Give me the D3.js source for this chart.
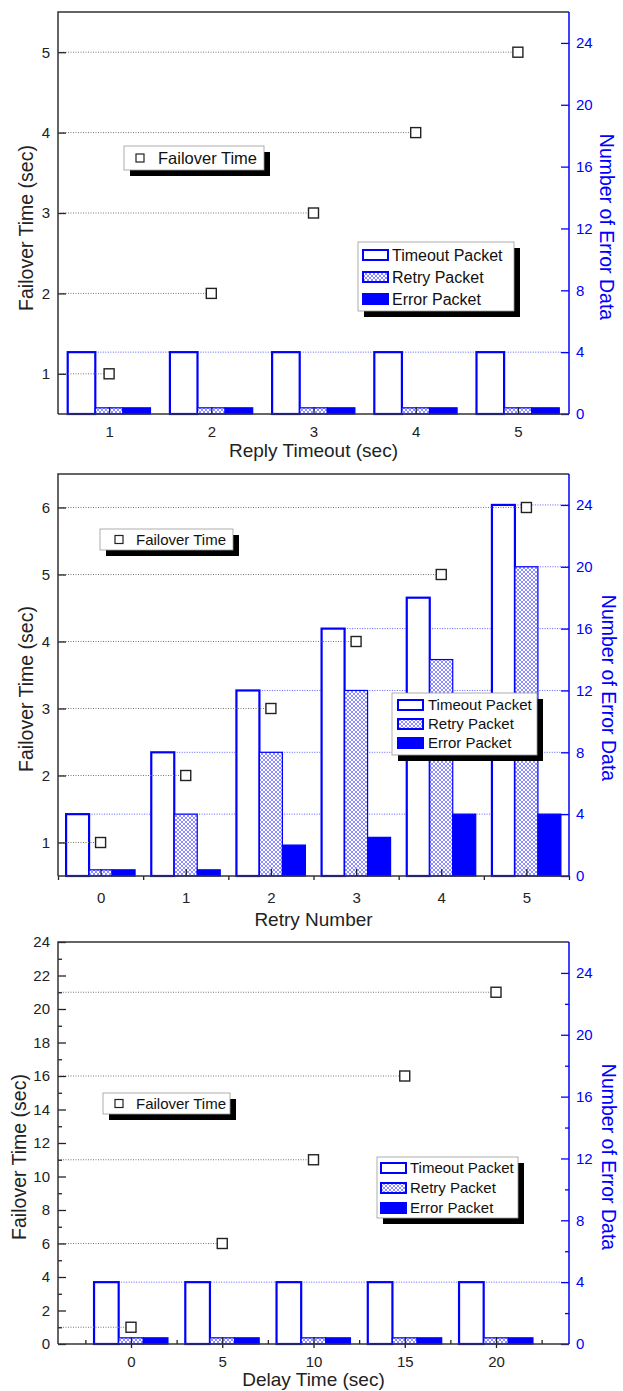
<!DOCTYPE html>
<html>
<head>
<meta charset="utf-8">
<script src="https://cdn.jsdelivr.net/npm/d3@7"></script>
<style>
body { margin: 0; background: #fff; }
text { font-family: "Liberation Sans", Arial, sans-serif; }
</style>
</head>
<body>
<svg id="chart" width="623" height="1391"></svg>
<script>
// ---- data ----
var replyTimeout = [1, 2, 3, 4, 5];
var replyFailover = [1, 2, 3, 4, 5];
var replyTimeoutPkt = [4, 4, 4, 4, 4];
var replyRetryPkt = [0.4, 0.4, 0.4, 0.4, 0.4];
var replyErrorPkt = [0.4, 0.4, 0.4, 0.4, 0.4];

var retryNumber = [0, 1, 2, 3, 4, 5];
var retryFailover = [1, 2, 3, 4, 5, 6];
var retryTimeoutPkt = [4, 8, 12, 16, 18, 24];
var retryRetryPkt = [0.4, 4, 8, 12, 14, 20];
var retryErrorPkt = [0.4, 0.4, 2, 2.5, 4, 4];

var delayTime = [0, 5, 10, 15, 20];
var delayFailover = [1, 6, 11, 16, 21];
var delayTimeoutPkt = [4, 4, 4, 4, 4];
var delayRetryPkt = [0.4, 0.4, 0.4, 0.4, 0.4];
var delayErrorPkt = [0.4, 0.4, 0.4, 0.4, 0.4];

// tick labels
var replyLeftTicks = [1, 2, 3, 4, 5];
var retryLeftTicks = [1, 2, 3, 4, 5, 6];
var delayLeftTicks = [0, 2, 4, 6, 8, 10, 12, 14, 16, 18, 20, 22, 24];
var delayLeftMinor = [1, 3, 5, 7, 9, 11, 13, 15, 17, 19, 21, 23];
var rightTicks = [0, 4, 8, 12, 16, 20, 24];
var delayRightMinor = [2, 6, 10, 14, 18, 22];
var retryMinorX = [-0.5, 0.5, 1.5, 2.5, 3.5, 4.5, 5.5];
var delayMinorX = [-2.5, 2.5, 7.5, 12.5, 17.5, 22.5];

var seriesNames = ["Timeout Packet", "Retry Packet", "Error Packet"];

var blue = "#0000ff";
var plotLeft = 58, plotRight = 569;
var fmt = d3.format("d");

var panels = [
    {
        cats: replyTimeout, failover: replyFailover,
        bars: [replyTimeoutPkt, replyRetryPkt, replyErrorPkt],
        xTitle: "Reply Timeout (sec)",
        leftTicks: replyLeftTicks, leftMinor: [], rightMinor: [], xMinor: [], xMinorSize: 0,
        top: 12, bottom: 414, xDomain: [0.5, 5.5], leftDomain: [0.5, 5.5], step: 1,
        xLabelPad: 12, xTitleY: 457, leftTitle: [26, 228], rightTitle: [607, 227],
        failLegend: {x: 124, y: 146, w: 140, h: 24, sx: 140, tx: 158, fs: 16.5},
        barLegend: {x: 358, y: 242, w: 156, h: 69, sx: 363, tx: 392, rows: [13, 35, 57], fs: 16}
    },
    {
        cats: retryNumber, failover: retryFailover,
        bars: [retryTimeoutPkt, retryRetryPkt, retryErrorPkt],
        xTitle: "Retry Number",
        leftTicks: retryLeftTicks, leftMinor: [], rightMinor: [], xMinor: retryMinorX, xMinorSize: 4,
        top: 474, bottom: 876, xDomain: [-0.5, 5.5], leftDomain: [0.5, 6.5], step: 1,
        xLabelPad: 16, xTitleY: 926, leftTitle: [26, 689], rightTitle: [609, 688],
        failLegend: {x: 100, y: 529, w: 133, h: 21, sx: 119, tx: 136, fs: 15},
        barLegend: {x: 392, y: 693, w: 145, h: 62, sx: 398, tx: 428, rows: [12, 31, 50], fs: 15}
    },
    {
        cats: delayTime, failover: delayFailover,
        bars: [delayTimeoutPkt, delayRetryPkt, delayErrorPkt],
        xTitle: "Delay Time (sec)",
        leftTicks: delayLeftTicks, leftMinor: delayLeftMinor, rightMinor: delayRightMinor, xMinor: delayMinorX, xMinorSize: -4,
        top: 942, bottom: 1344, xDomain: [-4, 24], leftDomain: [0, 24], step: 5,
        xLabelPad: 12, xTitleY: 1386, leftTitle: [19, 1157], rightTitle: [609, 1157],
        failLegend: {x: 103, y: 1093, w: 127, h: 21, sx: 119, tx: 136, fs: 15},
        barLegend: {x: 377, y: 1157, w: 141, h: 61, sx: 381, tx: 410, rows: [11, 31, 51], fs: 15}
    }
];

var svg = d3.select("#chart");

var defs = svg.append("defs");
var pat = defs.append("pattern")
    .attr("id", "hatch")
    .attr("patternUnits", "userSpaceOnUse")
    .attr("width", 4).attr("height", 4);
pat.append("rect").attr("width", 4).attr("height", 4).attr("fill", "#fff");
pat.append("path")
    .attr("d", "M0,0L4,4M4,0L0,4")
    .attr("stroke", "#6a6aff")
    .attr("stroke-width", 0.75);

var barFills = ["#fff", "url(#hatch)", blue];

function styleAxis(g, color, fs) {
    g.select(".domain").remove();
    g.selectAll(".tick line").attr("stroke", color).attr("stroke-width", 1.3);
    g.selectAll(".tick text").attr("fill", color).style("font-size", fs + "px").style("font-family", "'Liberation Sans', Arial, sans-serif");
}

function drawPanel(p) {
    var x = d3.scaleLinear().domain(p.xDomain).range([plotLeft, plotRight]);
    var yL = d3.scaleLinear().domain(p.leftDomain).range([p.bottom, p.top]);
    var yR = d3.scaleLinear().domain([0, 26]).range([p.bottom, p.top]);
    var bw = p.step * 0.27;
    var g = svg.append("g");

    // bar list in drawing order
    var bars = [];
    p.cats.forEach(function(c, i) {
        p.bars.forEach(function(vals, s) {
            bars.push({cat: c, s: s, v: vals[i], x0: c + (s - 1.5) * bw, x1: c + (s - 0.5) * bw});
        });
    });

    // blue dotted reference lines from the first bar reaching each right tick
    rightTicks.filter(function(v) { return v > 0; }).forEach(function(v) {
        var first = bars.find(function(b) { return b.v >= v - 0.01; });
        if (!first) return;
        g.append("line")
            .attr("x1", x(first.x1)).attr("x2", plotRight)
            .attr("y1", yR(v)).attr("y2", yR(v))
            .attr("stroke", "#4d4dff")
            .attr("stroke-width", 0.9)
            .attr("stroke-dasharray", "1,1.5");
    });

    // bars
    g.selectAll("rect.bar")
        .data(bars)
        .enter().append("rect")
        .attr("class", "bar")
        .attr("x", function(d) { return x(d.x0); })
        .attr("width", function(d) { return x(d.x1) - x(d.x0); })
        .attr("y", function(d) { return yR(d.v); })
        .attr("height", function(d) { return yR(0) - yR(d.v); })
        .attr("fill", function(d) { return barFills[d.s]; })
        .attr("stroke", blue)
        .attr("stroke-width", function(d) { return d.s == 0 ? 2.2 : 1.2; });

    // grey drop lines to failover points
    g.selectAll("line.drop")
        .data(p.cats)
        .enter().append("line")
        .attr("class", "drop")
        .attr("x1", plotLeft)
        .attr("x2", function(d) { return x(d) - 5; })
        .attr("y1", function(d, i) { return yL(p.failover[i]); })
        .attr("y2", function(d, i) { return yL(p.failover[i]); })
        .attr("stroke", "#777")
        .attr("stroke-width", 1)
        .attr("stroke-dasharray", "1,1.5");

    // failover markers
    g.selectAll("rect.pt")
        .data(p.cats)
        .enter().append("rect")
        .attr("class", "pt")
        .attr("x", function(d) { return x(d) - 5; })
        .attr("y", function(d, i) { return yL(p.failover[i]) - 5; })
        .attr("width", 10).attr("height", 10)
        .attr("fill", "#fff")
        .attr("stroke", "#222")
        .attr("stroke-width", 1.4);

    // axes
    var xAx = g.append("g").attr("transform", "translate(0," + p.bottom + ")")
        .call(d3.axisBottom(x).tickValues(p.cats).tickFormat(fmt).tickSizeInner(-7).tickSizeOuter(0).tickPadding(p.xLabelPad));
    styleAxis(xAx, "#222", 15);
    xAx.selectAll(".tick line").attr("y2", -7).attr("y1", p.step == 5 ? 4 : 0);
    if (p.xMinor.length) {
        var xm = g.append("g").attr("transform", "translate(0," + p.bottom + ")")
            .call(d3.axisBottom(x).tickValues(p.xMinor).tickSize(p.xMinorSize).tickFormat(""));
        styleAxis(xm, "#222", 15);
    }

    var lAx = g.append("g").attr("transform", "translate(" + plotLeft + ",0)")
        .call(d3.axisLeft(yL).tickValues(p.leftTicks).tickFormat(fmt).tickSizeInner(-8).tickSizeOuter(0).tickPadding(8));
    styleAxis(lAx, "#222", 15);
    if (p.leftMinor.length) {
        var lm = g.append("g").attr("transform", "translate(" + plotLeft + ",0)")
            .call(d3.axisLeft(yL).tickValues(p.leftMinor).tickSize(-4).tickFormat(""));
        styleAxis(lm, "#222", 15);
    }

    var rAx = g.append("g").attr("transform", "translate(" + plotRight + ",0)")
        .call(d3.axisRight(yR).tickValues(rightTicks).tickFormat(fmt).tickSizeInner(-8).tickSizeOuter(0).tickPadding(7));
    styleAxis(rAx, blue, 15);
    if (p.rightMinor.length) {
        var rm = g.append("g").attr("transform", "translate(" + plotRight + ",0)")
            .call(d3.axisRight(yR).tickValues(p.rightMinor).tickSize(-4).tickFormat(""));
        styleAxis(rm, blue, 15);
    }

    // frame
    g.append("path")
        .attr("d", "M" + plotLeft + "," + p.bottom + "V" + p.top + "H" + plotRight)
        .attr("fill", "none").attr("stroke", "#333").attr("stroke-width", 1.5);
    g.append("line")
        .attr("x1", plotLeft).attr("x2", plotRight).attr("y1", p.bottom).attr("y2", p.bottom)
        .attr("stroke", "#333").attr("stroke-width", 1.5);
    g.append("line")
        .attr("x1", plotRight).attr("x2", plotRight).attr("y1", p.top).attr("y2", p.bottom)
        .attr("stroke", blue).attr("stroke-width", 1.5);

    // axis titles
    g.append("text")
        .attr("x", (plotLeft + plotRight) / 2).attr("y", p.xTitleY)
        .attr("text-anchor", "middle").style("font-size", "19px").attr("fill", "#222")
        .text(p.xTitle);
    g.append("text")
        .attr("transform", "translate(" + p.leftTitle[0] + "," + p.leftTitle[1] + ") rotate(-90)")
        .attr("text-anchor", "middle").attr("dy", "0.35em")
        .style("font-size", "19.5px").attr("fill", "#222")
        .text("Failover Time (sec)");
    g.append("text")
        .attr("transform", "translate(" + p.rightTitle[0] + "," + p.rightTitle[1] + ") rotate(90)")
        .attr("text-anchor", "middle").attr("dy", "0.35em")
        .style("font-size", "19.5px").attr("fill", blue)
        .text("Number of Error Data");

    // failover legend
    var fl = p.failLegend;
    g.append("rect").attr("x", fl.x + 6).attr("y", fl.y + 6).attr("width", fl.w).attr("height", fl.h).attr("fill", "#000");
    g.append("rect").attr("x", fl.x).attr("y", fl.y).attr("width", fl.w).attr("height", fl.h)
        .attr("fill", "#fff").attr("stroke", "#999").attr("stroke-width", 0.8);
    g.append("rect").attr("x", fl.sx - 4).attr("y", fl.y + fl.h / 2 - 4).attr("width", 8).attr("height", 8)
        .attr("fill", "#fff").attr("stroke", "#222").attr("stroke-width", 1.2);
    g.append("text").attr("x", fl.tx).attr("y", fl.y + fl.h / 2).attr("dy", "0.36em")
        .style("font-size", fl.fs + "px").attr("fill", "#111").text("Failover Time");

    // bar legend
    var bl = p.barLegend;
    g.append("rect").attr("x", bl.x + 6).attr("y", bl.y + 6).attr("width", bl.w).attr("height", bl.h).attr("fill", "#000");
    g.append("rect").attr("x", bl.x).attr("y", bl.y).attr("width", bl.w).attr("height", bl.h)
        .attr("fill", "#fff").attr("stroke", "#999").attr("stroke-width", 0.8);
    seriesNames.forEach(function(name, s) {
        var cy = bl.y + bl.rows[s];
        g.append("rect").attr("x", bl.sx).attr("y", cy - 5).attr("width", 25).attr("height", 10)
            .attr("fill", barFills[s]).attr("stroke", blue).attr("stroke-width", 2);
        g.append("text").attr("x", bl.tx).attr("y", cy).attr("dy", "0.36em")
            .style("font-size", bl.fs + "px").attr("fill", "#111").text(name);
    });
}

panels.forEach(drawPanel);
</script>
</body>
</html>
